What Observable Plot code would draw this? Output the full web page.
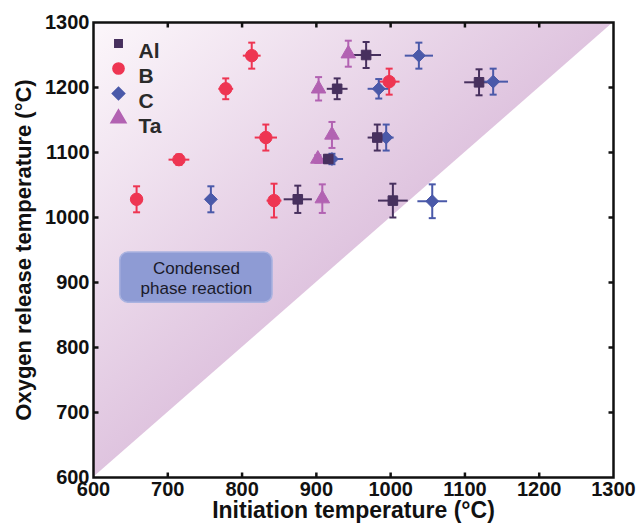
<!DOCTYPE html>
<html><head><meta charset="utf-8">
<script src="https://cdn.jsdelivr.net/npm/d3@7"></script>
<script src="https://cdn.jsdelivr.net/npm/@observablehq/plot@0.6"></script>
<style>body{margin:0;background:#fff}</style>
</head><body><div id="chart"></div>
<script>
// ---- data ----
const series = ["Al", "B", "C", "Ta"];
const seriesColors = ["#47305e", "#ee3552", "#4a59a9", "#b262b2"];
const seriesSymbols = ["square", "circle", "diamond2", "triangle"];

const alX  = [967, 928, 916, 982, 875, 1003, 1119];
const alY  = [1250, 1198, 1090, 1123, 1028, 1026, 1208];
const alXe = [20, 14, 12, 13, 19, 20, 20];
const alYe = [20, 16, 6, 20, 21, 26, 20];

const bX  = [813, 778, 832, 715, 658, 843, 998];
const bY  = [1249, 1198, 1123, 1089, 1028, 1026, 1209];
const bXe = [12, 10, 15, 14, 8, 10, 14];
const bYe = [20, 16, 20, 8, 20, 26, 20];

const cX  = [1038, 984, 1138, 994, 921, 758, 1056];
const cY  = [1249, 1198, 1209, 1123, 1090, 1028, 1025];
const cXe = [19, 15, 20, 10, 15, 7, 20];
const cYe = [20, 15, 20, 20, 8, 20, 26];

const taX  = [943, 903, 921, 902, 908];
const taY  = [1252, 1198, 1127, 1090, 1029];
const taXe = [0, 0, 0, 0, 0];
const taYe = [20, 18, 20, 6, 22];

const xTicks = [600, 700, 800, 900, 1000, 1100, 1200, 1300];
const yTicks = [600, 700, 800, 900, 1000, 1100, 1200, 1300];
const boxLabel = "Condensed\nphase reaction";
const boxExtent = {x1: 636, x2: 841, y1: 869, y2: 946};

// ---- build table ----
const raw = {Al: [alX, alY, alXe, alYe], B: [bX, bY, bXe, bYe], C: [cX, cY, cXe, cYe], Ta: [taX, taY, taXe, taYe]};
const drawOrder = ["Ta", "Al", "C", "B"];
const markerR = {Al: 5.4, B: 6.2, C: 5.8, Ta: 5.4};
const rows = [];
for (const s of drawOrder) {
  const [xs, ys, xes, yes] = raw[s];
  xs.forEach((x, i) => rows.push({s, x, y: ys[i], xe: xes[i], ye: yes[i]}));
}

// custom symbols
const seg = (x0, y0, x1, y1) => ({draw(ctx) { ctx.moveTo(x0, y0); ctx.lineTo(x1, y1); }});
const tickUp = seg(0, 0, 0, -5), tickDown = seg(0, 0, 0, 5);
const tickRight = seg(0, 0, 5, 0), tickLeft = seg(0, 0, -5, 0);
const cap = seg(-3.5, 0, 3.5, 0);

const defs = () => {
  const d = d3.create("svg:defs");
  const g = d.append("linearGradient").attr("id", "bgGrad")
    .attr("x1", 0).attr("y1", 0).attr("x2", 0.5).attr("y2", 0.5);
  g.append("stop").attr("offset", "0%").attr("stop-color", "#fcf7fb");
  g.append("stop").attr("offset", "100%").attr("stop-color", "#dfc4df");
  return d.node();
};

const legendMarks = [];
series.forEach((s, i) => {
  legendMarks.push(Plot.dot([s], {frameAnchor: "top-left", dx: 25, dy: 21 + 25 * i,
    symbol: seriesSymbols[i], fill: seriesColors[i], stroke: seriesColors[i], r: i === 0 ? 4.2 : 5.6}));
  legendMarks.push(Plot.text([s], {frameAnchor: "top-left", dx: 45, dy: 21 + 25 * i, text: d => d,
    textAnchor: "start", fill: "#2a2a2a", fontSize: 21, fontWeight: "bold"}));
});

const chart = Plot.plot({
  width: 636, height: 529,
  marginLeft: 93, marginRight: 23, marginTop: 22, marginBottom: 52,
  x: {domain: [600, 1300], ticks: xTicks},
  y: {domain: [600, 1300], ticks: yTicks},
  r: {type: "identity"},
  color: {domain: series, range: seriesColors},
  symbol: {domain: series, range: seriesSymbols},
  style: {fontFamily: "'Liberation Sans', Arial, sans-serif", fontWeight: "bold", fontSize: "20px", color: "#111", background: "#fff"},
  marks: [
    defs,
    Plot.areaY(xTicks.filter((d, i, a) => i === 0 || i === a.length - 1), {x: d => d, y1: d => d, y2: () => 1300, fill: "url(#bgGrad)"}),
    Plot.rect([boxExtent], {x1: "x1", x2: "x2", y1: "y1", y2: "y2", rx: 8, fill: "#8e9bd4", stroke: "#aab3e0", strokeWidth: 1.5}),
    Plot.text([boxLabel], {x: (boxExtent.x1 + boxExtent.x2) / 2, y: (boxExtent.y1 + boxExtent.y2) / 2, text: d => d,
      fontSize: 17, fontWeight: "normal", fill: "#1a1a2a", lineHeight: 1.2}),
    // error bars
    Plot.link(rows.filter(d => d.xe > 0), {x1: d => d.x - d.xe, x2: d => d.x + d.xe, y1: "y", y2: "y", stroke: "s", strokeWidth: 2}),
    Plot.link(rows, {x1: "x", x2: "x", y1: d => d.y - d.ye, y2: d => d.y + d.ye, stroke: "s", strokeWidth: 2}),
    Plot.dot(rows, {x: "x", y: d => d.y + d.ye, symbol: cap, stroke: "s", strokeWidth: 2}),
    Plot.dot(rows, {x: "x", y: d => d.y - d.ye, symbol: cap, stroke: "s", strokeWidth: 2}),
    // markers
    Plot.dot(rows, {x: "x", y: "y", symbol: "s", fill: "s", stroke: "s", strokeWidth: 1, r: d => markerR[d.s]}),
    ...legendMarks,
    // axes
    Plot.axisX({ticks: xTicks, tickFormat: d => String(d), tickSize: 0, tickPadding: 4, label: null, fontSize: 20, fontWeight: "bold"}),
    Plot.axisY({ticks: yTicks, tickFormat: d => String(d), tickSize: 0, tickPadding: 4, label: null, fontSize: 20, fontWeight: "bold"}),
    Plot.dot(xTicks.slice(1, -1), {x: d => d, frameAnchor: "bottom", symbol: tickUp, stroke: "#111", strokeWidth: 2.5}),
    Plot.dot(xTicks.slice(1, -1), {x: d => d, frameAnchor: "top", symbol: tickDown, stroke: "#111", strokeWidth: 2.5}),
    Plot.dot(yTicks.slice(1, -1), {y: d => d, frameAnchor: "left", symbol: tickRight, stroke: "#111", strokeWidth: 2.5}),
    Plot.dot(yTicks.slice(1, -1), {y: d => d, frameAnchor: "right", symbol: tickLeft, stroke: "#111", strokeWidth: 2.5}),
    Plot.frame({stroke: "#111", strokeWidth: 2.5}),
    Plot.text(["Initiation temperature (°C)"], {frameAnchor: "bottom", dy: 40, textAnchor: "middle", text: d => d, fontSize: 23, fontWeight: "bold", fill: "#111"}),
    Plot.text(["Oxygen release temperature (°C)"], {frameAnchor: "left", dx: -70, textAnchor: "middle", rotate: -90, text: d => d, fontSize: 22, fontWeight: "bold", fill: "#111"})
  ]
});
document.getElementById("chart").appendChild(chart);
</script>
</body></html>
